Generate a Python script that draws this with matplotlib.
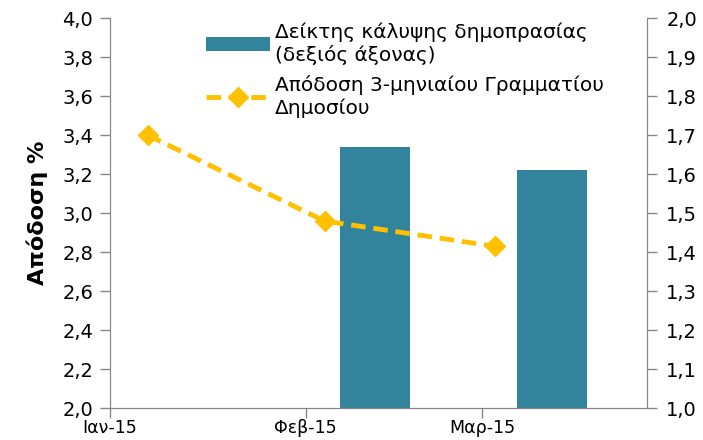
from datetime import datetime
import numpy as np
from matplotlib import pyplot as plt
import matplotlib.dates as mdates
from matplotlib.ticker import FixedLocator, FuncFormatter

plt.rcParams['font.family'] = ['DejaVu Sans']

# Απόδοση 3-μηνιαίου (αριστερός άξονας)
yield_dates = [datetime(2015, 1, 7), datetime(2015, 2, 4), datetime(2015, 3, 3)]
yield_vals = [3.40, 2.96, 2.83]
# Δείκτης κάλυψης (δεξιός άξονας)
cover_dates = [datetime(2015, 2, 12), datetime(2015, 3, 12)]
cover_vals = [1.67, 1.61]
month_ticks = [datetime(2015, 1, 1), datetime(2015, 2, 1), datetime(2015, 3, 1)]
month_labels = ['Ιαν-15', 'Φεβ-15', 'Μαρ-15']

grey = '#868686'
comma = FuncFormatter(lambda v, p: '{:.1f}'.format(v).replace('.', ','))

fig = plt.figure(figsize=(7.03, 4.40), dpi=100)
ax = fig.add_axes([0.156, 0.072, 0.764, 0.887])
ax2 = ax.twinx()

bars = ax2.bar(cover_dates, cover_vals, width=11.2, color='#31849B', zorder=2,
               label='Δείκτης κάλυψης δημοπρασίας\n(δεξιός άξονας)')
line, = ax.plot(yield_dates, yield_vals, color='#FFC000', lw=3.5, ls=(0, (3, 1.6)),
                marker='D', ms=10, zorder=3,
                label='Απόδοση 3-μηνιαίου Γραμματίου\nΔημοσίου')
ax.set_zorder(ax2.get_zorder() + 1)
ax.patch.set_visible(False)

ax.set_xlim(datetime(2015, 1, 1), datetime(2015, 3, 27))
ax.xaxis.set_major_locator(FixedLocator(mdates.date2num(month_ticks)))
ax.set_xticklabels(month_labels)
ax.set_ylim(2.0, 4.0)
ax.set_yticks(np.arange(2.0, 4.01, 0.2))
ax.yaxis.set_major_formatter(comma)
ax2.set_ylim(1.0, 2.0)
ax2.set_yticks(np.arange(1.0, 2.01, 0.1))
ax2.yaxis.set_major_formatter(comma)

for a in (ax, ax2):
    a.spines['top'].set_visible(False)
    for s in ('left', 'right', 'bottom'):
        a.spines[s].set_color(grey)
    a.tick_params(colors=grey, labelcolor='black', labelsize=14, length=7, width=1)
ax.tick_params(axis='x', pad=1, labelsize=12.5)
ax.tick_params(axis='y', pad=5)
ax2.tick_params(axis='y', pad=7)

ax.set_ylabel('Απόδοση %', fontsize=16, fontweight='bold', labelpad=10)

ax.legend([bars, line], [bars.get_label(), line.get_label()], loc='upper left',
          bbox_to_anchor=(0.145, 1.035), frameon=False, fontsize=14.5,
          handlelength=3.2, handletextpad=0.25, labelspacing=0.5)

plt.savefig('out.png', dpi=100)
